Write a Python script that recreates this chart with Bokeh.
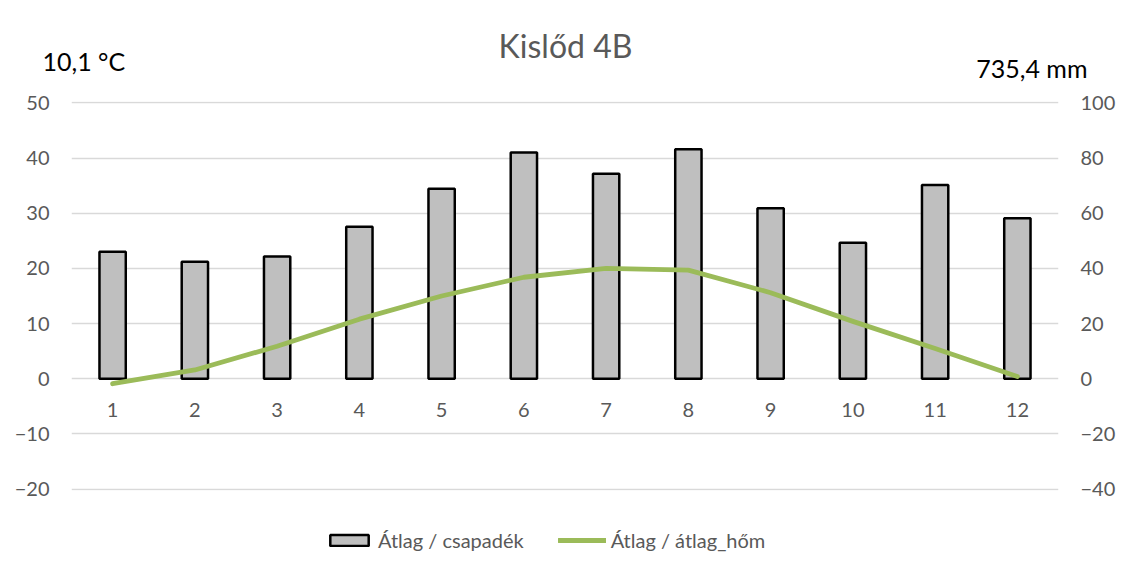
from bokeh.plotting import figure
from bokeh.layouts import column
from bokeh.models import Range1d, LinearAxis, FixedTicker, Legend, LegendItem, ColumnDataSource
from bokeh.core.properties import value
from bokeh.embed import file_html
from bokeh.resources import INLINE

# ---- data ----
months = [1, 2, 3, 4, 5, 6, 7, 8, 9, 10, 11, 12]
month_labels = ["1", "2", "3", "4", "5", "6", "7", "8", "9", "10", "11", "12"]
precip_mm = [46.0, 42.4, 44.3, 55.1, 68.9, 82.0, 74.3, 83.2, 61.8, 49.3, 70.2, 58.2]
temp_c = [-0.9, 1.6, 5.9, 10.8, 15.0, 18.4, 20.0, 19.7, 15.6, 10.4, 5.5, 0.4]
title_text = "Kislőd 4B"
temp_mean_text = "10,1 °C"
precip_sum_text = "735,4 mm"
series_names = ["Átlag / csapadék", "Átlag / átlag_hőm"]
temp_ticks = [-20, -10, 0, 10, 20, 30, 40, 50]
precip_ticks = [-40, -20, 0, 20, 40, 60, 80, 100]

FONT = "Lato"
GRAY = "#595959"
GRID = "#d9d9d9"
BAR_FILL = "#bfbfbf"
LINE_GREEN = "#9bbb59"
W = 1121


def bare(fig):
    fig.outline_line_color = None
    fig.xaxis.visible = False
    fig.yaxis.visible = False
    fig.xgrid.visible = False
    fig.ygrid.visible = False
    fig.background_fill_color = "white"
    fig.border_fill_color = "white"


# ---- header: title and summary texts (pixel-like coordinates, y from top) ----
top = figure(width=W, height=86, output_backend="svg", toolbar_location=None,
             x_range=Range1d(0, W), y_range=Range1d(86, 0), min_border=0, frame_align=False)
bare(top)
top.text(x=[565], y=[45], text=[title_text], text_align="center", text_baseline="middle",
         text_font=value(FONT), text_font_size="32px", text_color=GRAY)
top.text(x=[42], y=[60], text=[temp_mean_text], text_align="left", text_baseline="middle",
         text_font=value(FONT), text_font_size="25px", text_color="black")
top.text(x=[1087], y=[67], text=[precip_sum_text], text_align="right", text_baseline="middle",
         text_font=value(FONT), text_font_size="25px", text_color="black")

# ---- main chart ----
p = figure(width=W, height=418, output_backend="svg", toolbar_location=None,
           x_range=Range1d(0.5, 12.5), y_range=Range1d(-20.25, 50.25),
           min_border_left=71, min_border_right=63, min_border_top=15, min_border_bottom=14)
p.extra_y_ranges = {"mm": Range1d(-40.5, 100.5)}
p.outline_line_color = None
p.background_fill_color = "white"
p.border_fill_color = "white"

p.xgrid.grid_line_color = None
p.ygrid.grid_line_color = GRID
p.ygrid.grid_line_width = 1.6
p.ygrid.ticker = FixedTicker(ticks=temp_ticks)
p.xaxis.visible = False

bars = p.vbar(x=months, top=precip_mm, bottom=0, width=0.32, y_range_name="mm",
              fill_color=BAR_FILL, line_color="black", line_width=2.5)
line = p.line(months, temp_c, line_color=LINE_GREEN, line_width=4.8,
              line_cap="round", line_join="round")

# category labels just below the zero line
lab_src = ColumnDataSource(dict(x=months, y=[0] * len(months), text=month_labels))
p.text(x="x", y="y", text="text", source=lab_src, y_offset=31, text_align="center",
       text_baseline="middle", text_font=value(FONT), text_font_size="20px", text_color=GRAY)

ya = p.yaxis[0]
ya.ticker = FixedTicker(ticks=temp_ticks)
ra = LinearAxis(y_range_name="mm", ticker=FixedTicker(ticks=precip_ticks))
p.add_layout(ra, "right")
for ax in (ya, ra):
    ax.axis_line_color = None
    ax.major_tick_line_color = None
    ax.minor_tick_line_color = None
    ax.major_tick_out = 0
    ax.major_tick_in = 0
    ax.major_label_standoff = 22
    ax.major_label_text_font = FONT
    ax.major_label_text_font_size = "20px"
    ax.major_label_text_color = GRAY

# ---- legend strip (proxy renderers, hidden, carry the same series) ----
bot = figure(width=W, height=61, output_backend="svg", toolbar_location=None,
             x_range=Range1d(0, 1), y_range=Range1d(0, 1), min_border=0, frame_align=False)
bare(bot)
lg_bar = bot.vbar(x=months, top=precip_mm, width=0.32, fill_color=BAR_FILL,
                  line_color="black", line_width=2.5, visible=False)
lg_line = bot.line(x=months, y=temp_c, line_color=LINE_GREEN, line_width=4.8,
                   line_cap="round", visible=False)
legend = Legend(items=[LegendItem(label=series_names[0], renderers=[lg_bar]),
                       LegendItem(label=series_names[1], renderers=[lg_line])],
                orientation="horizontal", location=(325, 13),
                glyph_width=48, glyph_height=14, spacing=34, label_standoff=5,
                label_text_font=FONT, label_text_font_size="20px", label_text_color=GRAY,
                border_line_color=None, background_fill_alpha=0, padding=0, margin=0,
                inactive_fill_alpha=0)
bot.add_layout(legend, "center")

layout = column(top, p, bot, spacing=0)
open("out.html", "w").write(file_html(layout, INLINE))
